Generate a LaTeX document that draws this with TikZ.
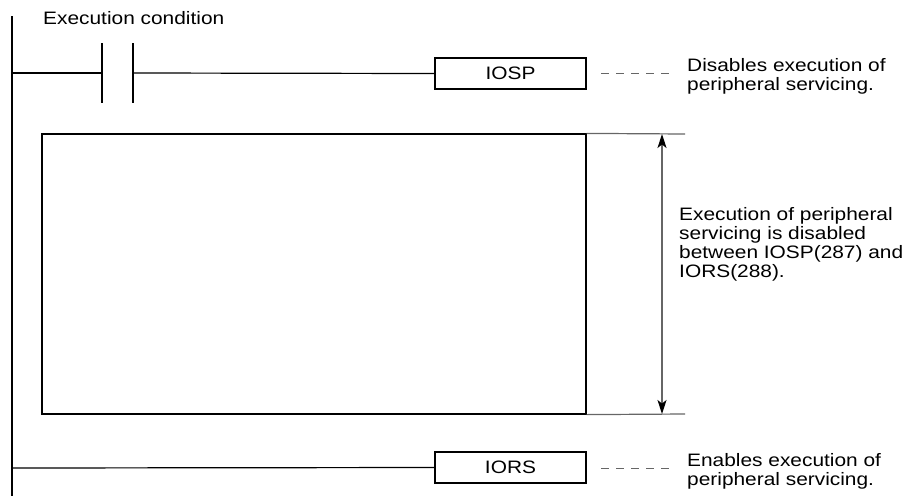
\documentclass[tikz,border=0pt]{standalone}
\usepackage{fontspec}
\setmainfont{Liberation Sans}[FakeStretch=1.16]
\usetikzlibrary{arrows.meta}
\begin{document}
\begin{tikzpicture}[x=1pt,y=-1pt,
  wire/.style={draw=black,line width=1.2pt},
  instr/.style={draw=black,line width=1.2pt,fill=white,minimum width=151pt,minimum height=31pt,inner sep=0pt,font={\fontsize{18}{19}\selectfont}},
  note/.style={anchor=north west,inner sep=0pt,align=left,font={\fontsize{18}{19}\selectfont}},
  lead/.style={draw=black!60,line width=1pt,dash pattern=on 8pt off 7pt},
  dim/.style={draw=black!60,line width=1.2pt},
  dimarrow/.style={draw=black!60,line width=1.2pt,{Stealth[length=14pt,width=9pt,inset=3.5pt,color=black]}-{Stealth[length=14pt,width=9pt,inset=3.5pt,color=black]}}
]
\useasboundingbox (0,0) rectangle (920,496);
% rail
\coordinate (railtop) at (12,16);
\coordinate (railbot) at (12,496);
\draw[wire] (railtop) -- (railbot);
% label
\node[anchor=base west,inner sep=0pt,font={\fontsize{18}{19}\selectfont}] (cond) at (43,24.5) {Execution condition};
% rung 1
\coordinate (r1) at (12,73);
\coordinate (ca) at (102,73);
\coordinate (cb) at (133,73);
\coordinate (catop) at (102,43);
\coordinate (cabot) at (102,103);
\coordinate (cbtop) at (133,43);
\coordinate (cbbot) at (133,103);
\node[instr] (iosp) at (510.5,73.5) {IOSP};
\draw[wire] (r1) -- (ca);
\draw[wire] (catop) -- (cabot);
\draw[wire] (cbtop) -- (cbbot);
\draw[wire] (cb) -- (iosp.west);
\coordinate (d1a) at (601,73);
\coordinate (d1b) at (669,73);
\draw[lead] (d1a) -- (d1b);
\node[note] (n1) at (687,58.5) {Disables execution of\\peripheral servicing.};
% program block
\node[draw=black,line width=1.2pt,minimum width=544pt,minimum height=280pt,inner sep=0pt] (prog) at (314,274) {};
\coordinate (et) at (685,134);
\coordinate (eb) at (685,414);
\coordinate (at) at (662,134);
\coordinate (ab) at (662,414);
\draw[dim] (prog.north east) -- (et);
\draw[dim] (prog.south east) -- (eb);
\draw[dimarrow] (at) -- (ab);
\node[note] (n2) at (679,207) {Execution of peripheral\\servicing is disabled\\between IOSP(287) and\\IORS(288).};
% rung 2
\coordinate (r2) at (12,468);
\node[instr] (iors) at (510.5,467.5) {IORS};
\draw[wire] (r2) -- (iors.west);
\coordinate (d2a) at (601,468);
\coordinate (d2b) at (669,468);
\draw[lead] (d2a) -- (d2b);
\node[note] (n3) at (687,453.5) {Enables execution of\\peripheral servicing.};
\end{tikzpicture}
\end{document}
